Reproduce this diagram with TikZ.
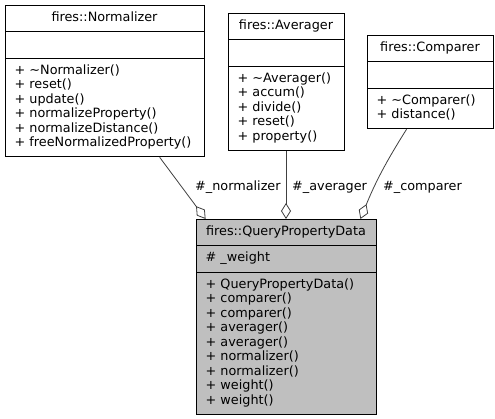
\documentclass[tikz,border=0pt]{standalone}
\usepackage{fontspec}
\setmainfont{DejaVu Sans}
\usetikzlibrary{shapes.multipart,arrows.meta}

\newcommand{\classfont}{\fontsize{12.8}{14.5}\selectfont}
\newcommand{\classname}[1]{\strut\hfill#1\hfill\null}
\definecolor{edgegray}{HTML}{404040}
\definecolor{classgray}{HTML}{BFBFBF}

\tikzset{
  classbox/.style={draw, line width=0.8pt, fill=white, rectangle split, rectangle split parts=3,
    inner xsep=9.5pt, inner ysep=5.5pt, align=left, font=\classfont, anchor=north},
  aggr/.style={draw=edgegray, line width=0.8pt, -{Diamond[open, length=16pt, width=10pt]}},
  role/.style={font=\classfont, anchor=west, inner sep=0pt}
}

\begin{document}
\begin{tikzpicture}[x=1pt, y=-1pt]
  \useasboundingbox (0,0) rectangle (495,419);

  % the three helper classes
  \node[classbox, text width=180pt] (normalizer) at (104.5,5) {\classname{fires::Normalizer}
    \nodepart{two}\strut
    \nodepart{three}\strut+ \textasciitilde Normalizer()\\+ reset()\\+ update()\\+ normalizeProperty()\\+ normalizeDistance()\\+ freeNormalizedProperty()\strut};
  \node[classbox, text width=97pt] (averager) at (286,13) {\classname{fires::Averager}
    \nodepart{two}\strut
    \nodepart{three}\strut+ \textasciitilde Averager()\\+ accum()\\+ divide()\\+ reset()\\+ property()\strut};
  \node[classbox, text width=107pt] (comparer) at (430,35) {\classname{fires::Comparer}
    \nodepart{two}\strut
    \nodepart{three}\strut+ \textasciitilde Comparer()\\+ distance()\strut};

  % the class that holds them
  \node[classbox, fill=classgray, text width=161pt] (qpd) at (286,219) {\classname{fires::QueryPropertyData}
    \nodepart{two}\strut\# \_weight
    \nodepart{three}\strut+ QueryPropertyData()\\+ comparer()\\+ comparer()\\+ averager()\\+ averager()\\+ normalizer()\\+ normalizer()\\+ weight()\\+ weight()\strut};

  % aggregations
  \draw[aggr] ([xshift=155pt]normalizer.south west) -- ([xshift=10pt]qpd.north west);
  \draw[aggr] (averager.south) -- (qpd.north);
  \draw[aggr] ([xshift=40pt]comparer.south west) to[bend right=5] ([xshift=-16pt]qpd.north east);

  \node[role] (lnormalizer) at (195,187) {\#\_normalizer};
  \node[role] (laverager) at (292,187) {\#\_averager};
  \node[role] (lcomparer) at (383,187) {\#\_comparer};
\end{tikzpicture}
\end{document}
